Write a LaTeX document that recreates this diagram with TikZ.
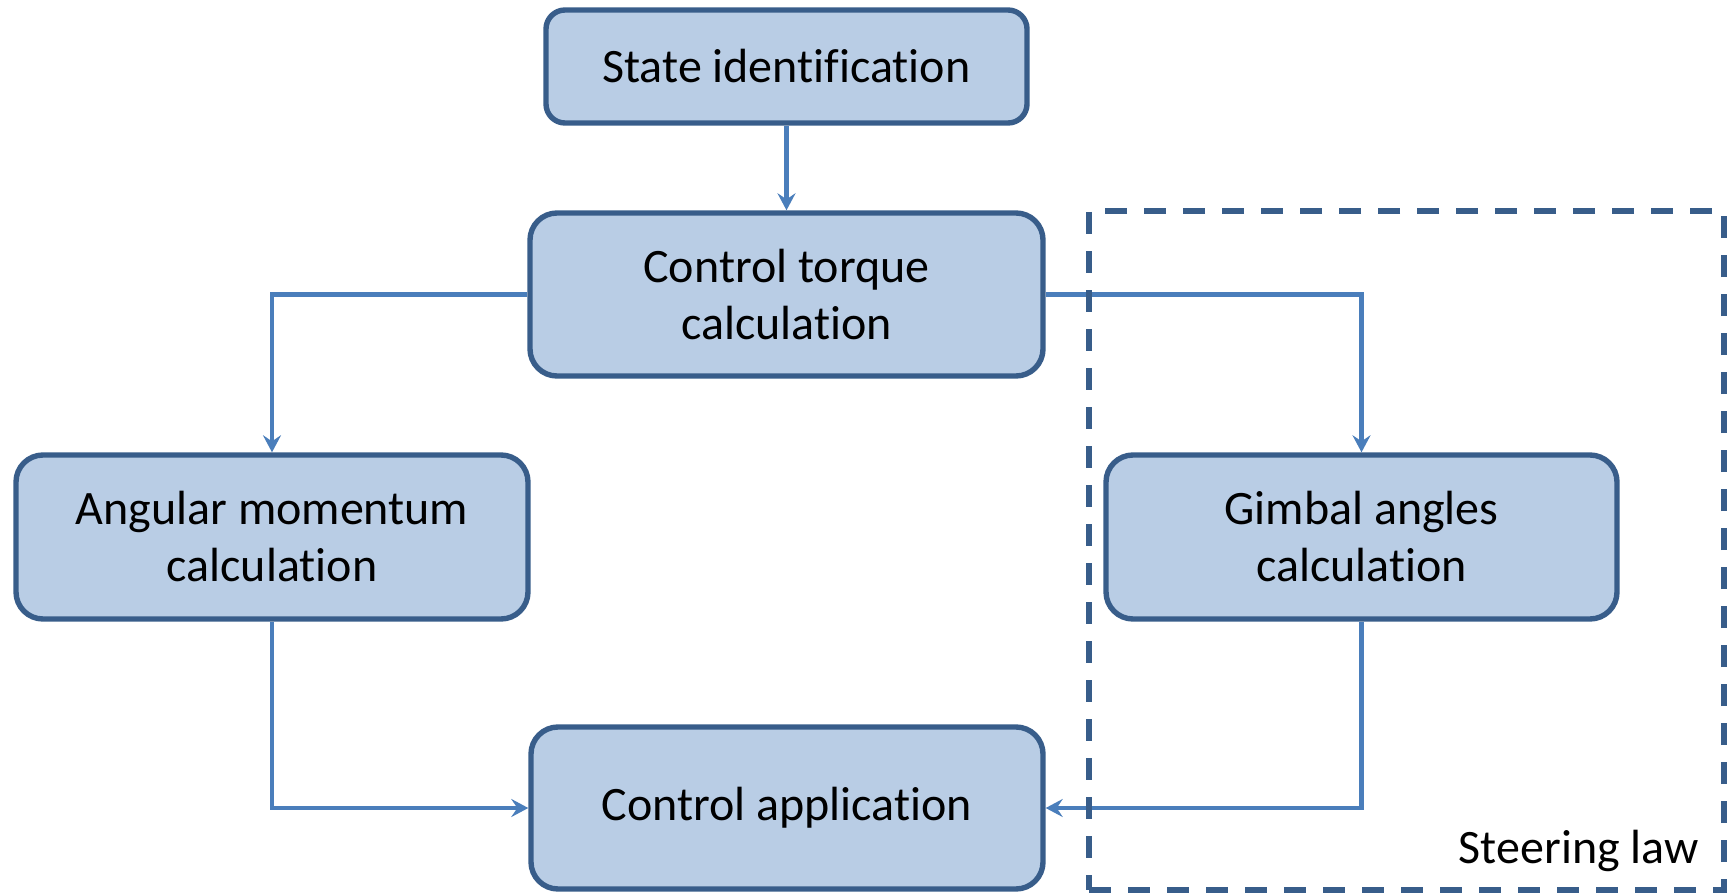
\documentclass[tikz,border=0pt]{standalone}
\usepackage{fontspec}
\setmainfont{Carlito}[Ligatures=NoCommon]
\usetikzlibrary{arrows.meta}
\definecolor{boxfill}{HTML}{B9CDE5}
\definecolor{boxline}{HTML}{385D8A}
\definecolor{connline}{HTML}{4A7EBB}
\tikzset{
  flowbox/.style={draw=boxline, fill=boxfill, line width=2.7pt, rectangle,
    rounded corners=13.5pt, align=center, inner sep=0pt,
    font=\fontsize{24pt}{28.5pt}\selectfont},
  conn/.style={draw=connline, line width=2.4pt,
    -{Stealth[length=8.5pt, width=9pt, inset=3pt]}},
  dashbox/.style={draw=boxline, line width=2.8pt, dash pattern=on 11pt off 8.5pt,
    rectangle, inner sep=0pt},
  lbl/.style={font=\fontsize{24pt}{28.5pt}\selectfont, inner sep=0pt}
}
\begin{document}
\begin{tikzpicture}[x=0.5pt, y=-0.5pt]
\useasboundingbox (0,0) rectangle (1733,893);
\node[flowbox, rounded corners=9.5pt, minimum width=240.5pt, minimum height=56.5pt] (state) at (786.5,66.5) {State identification};
\node[flowbox, minimum width=256.5pt, minimum height=81.5pt] (torque) at (786.5,294.5) {Control torque\\calculation};
\node[flowbox, minimum width=256pt, minimum height=82pt] (angular) at (272,537) {Angular momentum\\calculation};
\node[flowbox, minimum width=255.5pt, minimum height=82pt] (gimbal) at (1361.5,537) {Gimbal angles\\calculation};
\node[flowbox, minimum width=256pt, minimum height=81pt] (app) at (787,808) {Control application};
\draw[conn] (state) -- (torque);
\draw[conn] (torque.west) -| (angular.north);
\draw[conn] (torque.east) -| (gimbal.north);
\draw[conn] (angular.south) |- (app.west);
\draw[conn] (gimbal.south) |- (app.east);
\node[dashbox, minimum width=317.5pt, minimum height=339.5pt] (steer) at (1406.5,550.5) {};
\node[lbl, anchor=base east] (steerlbl) at (1699,863) {Steering law};
\end{tikzpicture}
\end{document}
